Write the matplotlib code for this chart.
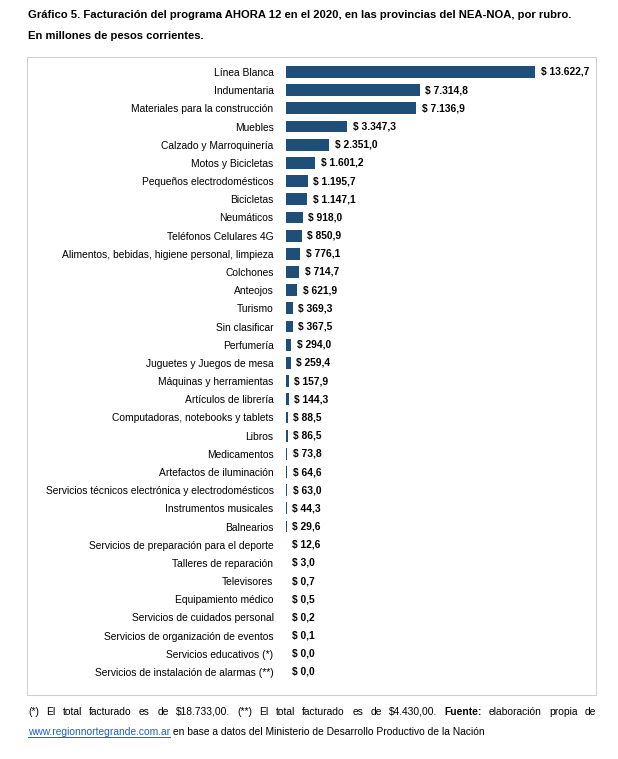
import matplotlib.pyplot as plt
from matplotlib.patches import Rectangle

rubros = [
    "Línea Blanca", "Indumentaria", "Materiales para la construcción", "Muebles",
    "Calzado y Marroquinería", "Motos y Bicicletas", "Pequeños electrodomésticos",
    "Bicicletas", "Neumáticos", "Teléfonos Celulares 4G",
    "Alimentos, bebidas, higiene personal, limpieza", "Colchones", "Anteojos",
    "Turismo", "Sin clasificar", "Perfumería", "Juguetes y Juegos de mesa",
    "Máquinas y herramientas", "Artículos de librería",
    "Computadoras, notebooks y tablets", "Libros", "Medicamentos",
    "Artefactos de iluminación", "Servicios técnicos electrónica y electrodomésticos",
    "Instrumentos musicales", "Balnearios", "Servicios de preparación para el deporte",
    "Talleres de reparación", "Televisores", "Equipamiento médico",
    "Servicios de cuidados personal", "Servicios de organización de eventos",
    "Servicios educativos (*)", "Servicios de instalación de alarmas (**)",
]
valores = [
    13622.7, 7314.8, 7136.9, 3347.3, 2351.0, 1601.2, 1195.7, 1147.1, 918.0, 850.9,
    776.1, 714.7, 621.9, 369.3, 367.5, 294.0, 259.4, 157.9, 144.3, 88.5, 86.5,
    73.8, 64.6, 63.0, 44.3, 29.6, 12.6, 3.0, 0.7, 0.5, 0.2, 0.1, 0.0, 0.0,
]


def fmt(v):
    s = f"{v:,.1f}".replace(",", "X").replace(".", ",").replace("X", ".")
    return "$ " + s


def main():
    plt.rcParams['font.family'] = ['Liberation Sans', 'DejaVu Sans']
    fig = plt.figure(figsize=(6.18, 7.59), dpi=100)
    W, H = 618, 759
    n = len(rubros)
    step = (672 - 72) / (n - 1)
    top = 72 - step / 2
    bot = 672 + step / 2
    ax = fig.add_axes([286 / W, 1 - bot / H, 304 / W, (bot - top) / H])

    y = list(range(n))
    ax.barh(y, valores, height=0.65, color="#1f4e79")
    ax.set_ylim(n - 0.5, -0.5)
    ax.set_xlim(0, 13622.7 * 304 / 249)
    ax.set_yticks(y)
    ax.set_yticklabels(rubros, fontsize=7.4)
    ax.tick_params(axis='y', length=0, pad=9)
    ax.set_xticks([])
    for s in ["top", "right", "bottom", "left"]:
        ax.spines[s].set_visible(False)

    for yi, v in zip(y, valores):
        ax.annotate(fmt(v), (v, yi), xytext=(4, 0), textcoords="offset points",
                    va="center", ha="left", fontsize=7.4, fontweight="bold")

    fig.patches.append(Rectangle((27 / W, 1 - 695 / H), 569 / W, 638 / H,
                                 transform=fig.transFigure, fill=False,
                                 edgecolor="#d0d0d0", linewidth=0.8))

    fig.text(28 / W, 1 - 15 / H,
             "Gráfico 5. Facturación del programa AHORA 12 en el 2020, en las provincias del NEA-NOA, por rubro.",
             fontsize=8.1, fontweight="bold", va="center")
    fig.text(28 / W, 1 - 36 / H, "En millones de pesos corrientes.",
             fontsize=8.1, fontweight="bold", va="center")

    # justified first footnote line
    line1 = "(*) El total facturado es de \\$18.733,00. (**) El total facturado es de \\$4.430,00.".split(" ")
    words = [(w, "normal") for w in line1] + [("Fuente:", "bold")] + \
        [(w, "normal") for w in "elaboración propia de".split(" ")]
    fig.canvas.draw()
    r = fig.canvas.get_renderer()
    arts = []
    total = 0
    for w, fw in words:
        t = fig.text(0, 1 - 712 / H, w, fontsize=7.4, fontweight=fw, va="center")
        arts.append(t)
        total += t.get_window_extent(r).width
    gap = (568 - total) / (len(arts) - 1)
    x = 28
    for t in arts:
        t.set_x(x / W)
        x += t.get_window_extent(r).width + gap

    link = fig.text(28 / W, 1 - 732 / H, "www.regionnortegrande.com.ar", fontsize=7.4,
                    va="center", color="#1f5fbf")
    lw = link.get_window_extent(r).width
    fig.add_artist(plt.Line2D([28 / W, (28 + lw) / W], [1 - 737 / H, 1 - 737 / H],
                              color="#1f5fbf", linewidth=0.7))
    fig.text((28 + lw + 3) / W, 1 - 732 / H,
             "en base a datos del Ministerio de Desarrollo Productivo de la Nación",
             fontsize=7.4, va="center")

    fig.savefig("out.png", dpi=100)


if __name__ == '__main__':
    main()
